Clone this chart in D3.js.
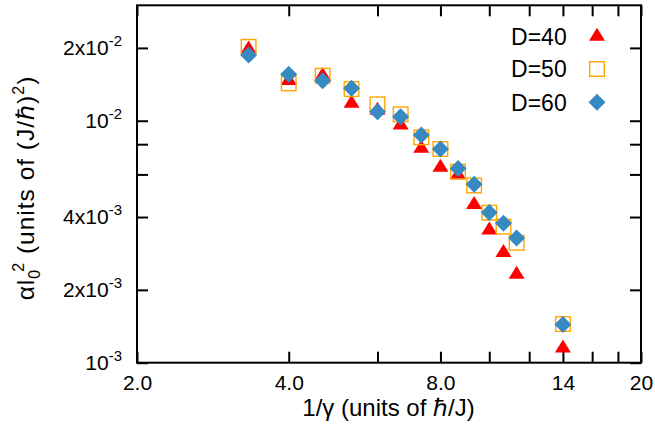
<!DOCTYPE html>
<html><head><meta charset="utf-8">
<script src="https://cdn.jsdelivr.net/npm/d3@7"></script>
<style>
body{margin:0;background:#fff}
text{font-family:"Liberation Sans",Arial,Helvetica,sans-serif;fill:#000}
</style>
</head><body>
<svg id="chart" width="655" height="435"></svg>
<script>
// ---- data ----
const xValues = [3.33, 4.0, 4.67, 5.33, 6.0, 6.67, 7.33, 8.0, 8.67, 9.33, 10.0, 10.67, 11.33, 14.0];
const d40 = [0.0197, 0.0146, 0.0153, 0.01175, 0.0110, 0.00955, 0.00766, 0.00639, 0.00595, 0.00448, 0.00352, 0.00284, 0.00231, 0.001145];
const d50 = [0.0202, 0.01427, 0.01535, 0.01352, 0.01169, 0.01063, 0.00854, 0.00764, 0.00616, 0.0054, 0.00417, 0.00365, 0.00313, 0.001445];
const d60 = [0.01868, 0.01555, 0.01463, 0.01361, 0.01089, 0.01039, 0.00873, 0.00764, 0.00635, 0.00547, 0.00418, 0.00377, 0.00328, 0.00144];
const seriesNames = ["D=40", "D=50", "D=60"];
const xTicks = [2, 4, 6, 8, 10, 12, 14, 16, 18, 20];
const xTickLabels = ["2.0", "4.0", "", "8.0", "", "", "14", "", "", "20"];
const yTicks = [0.001, 0.002, 0.004, 0.006, 0.008, 0.01, 0.02];
const yTickMantissa = ["10", "2x10", "4x10", "", "", "10", "2x10"];
const yTickExponent = ["-3", "-3", "-3", "", "", "-2", "-2"];
const xTitle = "1/\u03B3 (units of \u210F/J)";

// ---- layout ----
const W = 655, H = 435;
const L = 137, R = 641, T = 5.3, B = 362.7;
const svg = d3.select("#chart");
svg.append("rect").attr("width", W).attr("height", H).attr("fill", "#fff");

const x = d3.scaleLog().domain([2, 20]).range([L, R]);
const y = d3.scaleLog().domain([0.001, 0.03]).range([B, T]);

const tickLen = 11;
function styleAxis(g) {
  g.select(".domain").remove();
  g.selectAll(".tick line").attr("stroke", "#000").attr("stroke-width", 2);
  g.selectAll(".tick text").attr("font-size", 21).attr("fill", "#000")
    .attr("font-family", '"Liberation Sans",Arial,Helvetica,sans-serif');
}

// bottom axis
const gxb = svg.append("g").attr("transform", `translate(0,${B})`)
  .call(d3.axisBottom(x).tickValues(xTicks).tickSize(-tickLen).tickPadding(12)
    .tickFormat((d, i) => xTickLabels[i]));
styleAxis(gxb);
// top axis
const gxt = svg.append("g").attr("transform", `translate(0,${T})`)
  .call(d3.axisTop(x).tickValues(xTicks).tickSize(-tickLen).tickFormat(() => ""));
styleAxis(gxt);
// left axis
const gyl = svg.append("g").attr("transform", `translate(${L},0)`)
  .call(d3.axisLeft(y).tickValues(yTicks).tickSize(-tickLen).tickPadding(15).tickFormat(() => ""));
styleAxis(gyl);
gyl.selectAll(".tick text").each(function (d, i) {
  const t = d3.select(this);
  t.text(null);
  if (!yTickMantissa[i]) return;
  t.append("tspan").text(yTickMantissa[i]);
  t.append("tspan").attr("font-size", 15).attr("dy", -9).text(yTickExponent[i]);
});
// right axis
const gyr = svg.append("g").attr("transform", `translate(${R},0)`)
  .call(d3.axisRight(y).tickValues(yTicks).tickSize(-tickLen).tickFormat(() => ""));
styleAxis(gyr);

// frame
svg.append("rect").attr("x", L).attr("y", T).attr("width", R - L).attr("height", B - T)
  .attr("fill", "none").attr("stroke", "#000").attr("stroke-width", 2);

// ---- markers ----
const colors = ["#ff0000", "#ffa500", "#3789c1"];
function drawMarker(g, kind, cx, cy) {
  if (kind === 0) {
    g.append("path").attr("d", `M${cx},${cy - 9}L${cx + 8},${cy + 4}L${cx - 8},${cy + 4}Z`)
      .attr("fill", colors[0]);
  } else if (kind === 1) {
    g.append("rect").attr("x", cx - 7.3).attr("y", cy - 7.3).attr("width", 14.6).attr("height", 14.6)
      .attr("fill", "none").attr("stroke", colors[1]).attr("stroke-width", 1.4);
  } else {
    g.append("path").attr("d", `M${cx},${cy - 8.5}L${cx + 8.5},${cy}L${cx},${cy + 8.5}L${cx - 8.5},${cy}Z`)
      .attr("fill", colors[2]);
  }
}
const series = [d40, d50, d60];
series.forEach((vals, k) => {
  const g = svg.append("g").attr("class", "series-" + k);
  vals.forEach((v, i) => drawMarker(g, k, x(xValues[i]), y(v)));
});

// ---- legend ----
const lg = svg.append("g");
const legendRows = [36.2, 69, 102.3];
seriesNames.forEach((name, k) => {
  lg.append("text").attr("x", 566.7).attr("y", legendRows[k] + 8.3)
    .attr("text-anchor", "end").attr("font-size", 23).text(name);
  drawMarker(lg, k, 597, legendRows[k] + (k === 0 ? 0.5 : 0));
});

// ---- axis titles ----
svg.append("text").attr("x", (302 + 475) / 2).attr("y", 416)
  .attr("text-anchor", "middle").attr("font-size", 24).text(xTitle);

const yt = svg.append("text").attr("transform", "translate(34,188) rotate(-90)")
  .attr("text-anchor", "middle").attr("font-size", 24.5).attr("letter-spacing", 1);
yt.append("tspan").text("\u03B1l");
yt.append("tspan").attr("font-size", 16).attr("dy", 6).text("0");
yt.append("tspan").attr("font-size", 16).attr("dy", -16).attr("dx", -3).text("2");
yt.append("tspan").attr("dy", 10).text(" (units of (J/\u210F)");
yt.append("tspan").attr("font-size", 16).attr("dy", -10).text("2");
yt.append("tspan").attr("dy", 10).text(")");
</script>
</body></html>
